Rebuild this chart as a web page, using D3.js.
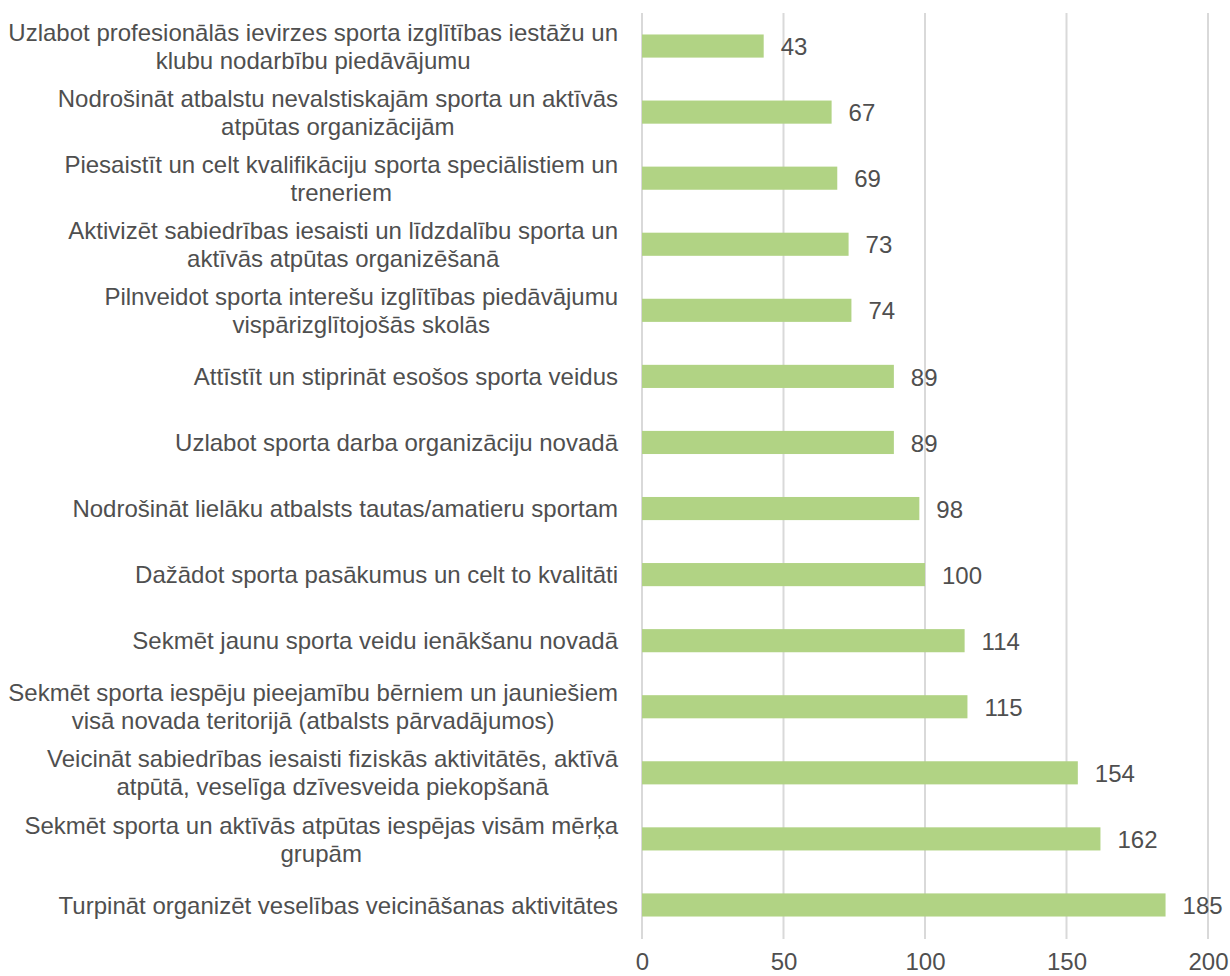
<!DOCTYPE html>
<html>
<head>
<meta charset="utf-8">
<script src="https://cdn.jsdelivr.net/npm/d3@7/dist/d3.min.js"></script>
<style>
  html, body { margin: 0; padding: 0; background: #fff; }
  svg { display: block; }
  text { font-family: "Liberation Sans", Arial, sans-serif; }
</style>
</head>
<body>
<svg id="chart" width="1230" height="976"></svg>
<script>
// Categories (line breaks marked with "|"), top to bottom
const categories = [
  "Uzlabot profesionālās ievirzes sporta izglītības iestāžu un|klubu nodarbību piedāvājumu",
  "Nodrošināt atbalstu nevalstiskajām sporta un aktīvās|atpūtas organizācijām",
  "Piesaistīt un celt kvalifikāciju sporta speciālistiem un|treneriem",
  "Aktivizēt sabiedrības iesaisti un līdzdalību sporta un|aktīvās atpūtas organizēšanā",
  "Pilnveidot sporta interešu izglītības piedāvājumu|vispārizglītojošās skolās",
  "Attīstīt un stiprināt esošos sporta veidus",
  "Uzlabot sporta darba organizāciju novadā",
  "Nodrošināt lielāku atbalsts tautas/amatieru sportam",
  "Dažādot sporta pasākumus un celt to kvalitāti",
  "Sekmēt jaunu sporta veidu ienākšanu novadā",
  "Sekmēt sporta iespēju pieejamību bērniem un jauniešiem|visā novada teritorijā (atbalsts pārvadājumos)",
  "Veicināt sabiedrības iesaisti fiziskās aktivitātēs, aktīvā|atpūtā, veselīga dzīvesveida piekopšanā",
  "Sekmēt sporta un aktīvās atpūtas iespējas visām mērķa|grupām",
  "Turpināt organizēt veselības veicināšanas aktivitātes"
];
const values = [43, 67, 69, 73, 74, 89, 89, 98, 100, 114, 115, 154, 162, 185];
const xTicks = [0, 50, 100, 150, 200];

const width = 1230, height = 976;
const margin = { top: 13, right: 22, bottom: 38, left: 642 };
const labelGap = 24;
const fontSize = 24;
const lineHeight = 28;
const barColor = "#B1D384";
const textColor = "#4F4F4F";
const gridColor = "#D9D9D9";

const svg = d3.select("#chart");

const x = d3.scaleLinear()
  .domain([0, 200])
  .range([margin.left, width - margin.right]);

const y = d3.scaleBand()
  .domain(d3.range(categories.length))
  .range([margin.top, height - margin.bottom])
  .paddingInner(0.65)
  .paddingOuter(0.325);

// Vertical gridlines
svg.append("g")
  .selectAll("line")
  .data(xTicks)
  .join("line")
  .attr("x1", d => x(d)).attr("x2", d => x(d))
  .attr("y1", margin.top).attr("y2", height - margin.bottom + 1)
  .attr("stroke", gridColor)
  .attr("stroke-width", 2);

// Bottom axis labels
const xAxis = d3.axisBottom(x).tickValues(xTicks).tickSize(0).tickPadding(0);
const gx = svg.append("g")
  .attr("transform", `translate(0,${height - margin.bottom})`)
  .call(xAxis);
gx.select(".domain").remove();
gx.selectAll("text")
  .attr("y", 32)
  .attr("dy", 0)
  .attr("fill", textColor)
  .style("font-size", fontSize + "px")
  .style("font-family", '"Liberation Sans", Arial, sans-serif');

// Bars
svg.append("g")
  .selectAll("rect")
  .data(values)
  .join("rect")
  .attr("x", x(0))
  .attr("y", (d, i) => y(i))
  .attr("width", d => x(d) - x(0))
  .attr("height", y.bandwidth())
  .attr("fill", barColor);

// Value labels
svg.append("g")
  .selectAll("text")
  .data(values)
  .join("text")
  .attr("x", d => x(d) + 17)
  .attr("y", (d, i) => y(i) + y.bandwidth() / 2)
  .attr("dy", "0.38em")
  .attr("fill", textColor)
  .style("font-size", fontSize + "px")
  .text(d => d);

// Category labels: lines centred on each other, block right-aligned to the plot
const labelRight = x(0) - labelGap;
const catGroups = svg.append("g")
  .selectAll("g")
  .data(categories)
  .join("g");

catGroups.each(function (d, i) {
  const g = d3.select(this);
  const lines = d.split("|");
  const cy = y(i) + y.bandwidth() / 2;
  const t = g.append("text")
    .attr("fill", textColor)
    .style("font-size", fontSize + "px")
    .attr("text-anchor", "middle");
  const spans = lines.map((ln, k) => t.append("tspan")
    .attr("y", cy + (k - (lines.length - 1) / 2) * lineHeight)
    .attr("dy", "0.36em")
    .text(ln));
  const maxW = d3.max(spans, s => s.node().getComputedTextLength());
  spans.forEach(s => s.attr("x", labelRight - maxW / 2));
});
</script>
</body>
</html>
